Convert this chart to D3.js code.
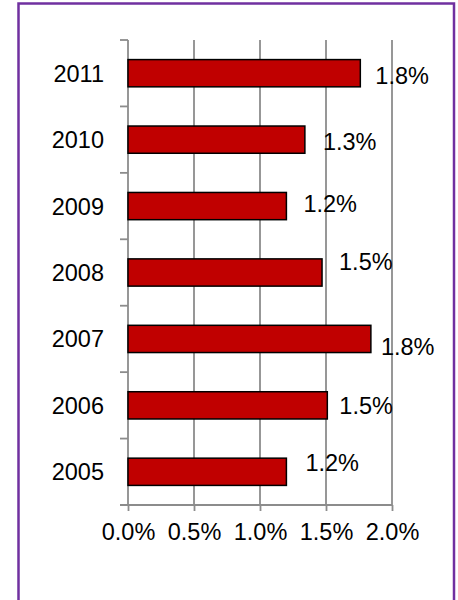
<!DOCTYPE html>
<html>
<head>
<meta charset="utf-8">
<script src="https://cdn.jsdelivr.net/npm/d3@7"></script>
<style>
  html, body { margin: 0; padding: 0; background: #fff; }
  svg { display: block; }
  text { font-family: "Liberation Sans", Arial, sans-serif; fill: #000; }
</style>
</head>
<body>
<svg id="chart" width="458" height="600"></svg>
<script>
// ---- data ----
const years = ["2011", "2010", "2009", "2008", "2007", "2006", "2005"];
const values = [1.76, 1.34, 1.20, 1.47, 1.84, 1.51, 1.20];
const valueLabels = ["1.8%", "1.3%", "1.2%", "1.5%", "1.8%", "1.5%", "1.2%"];
const xTicks = [0, 0.5, 1.0, 1.5, 2.0];
const xTickLabels = ["0.0%", "0.5%", "1.0%", "1.5%", "2.0%"];

// ---- layout (manual label nudges, as placed in the original) ----
const labelNudgeX = [15, 18, 17, 17, 10, 12, 19];
const labelNudgeY = [2, 2, -3, -11.5, 8, 0.5, -9];

const svg = d3.select("#chart");
const fontSize = 23.5;

// border
svg.append("rect")
  .attr("x", 18.5).attr("y", 3.5)
  .attr("width", 435.5).attr("height", 600)
  .attr("fill", "none").attr("stroke", "#7030A0").attr("stroke-width", 2.5);

const x = d3.scaleLinear().domain([0, 2]).range([128, 392]);
const y = d3.scaleBand().domain(years).range([40, 505]).padding(0);
const step = y.step();
const barH = step * 0.41;

const gridColor = "#8c8c8c";

// vertical gridlines
svg.append("g").selectAll("line")
  .data(xTicks.slice(1))
  .join("line")
  .attr("x1", d => x(d)).attr("x2", d => x(d))
  .attr("y1", 40).attr("y2", 505)
  .attr("stroke", gridColor).attr("stroke-width", 1.8);

// bottom axis
const xAxis = d3.axisBottom(x)
  .tickValues(xTicks)
  .tickFormat((d, i) => xTickLabels[i])
  .tickSizeInner(6).tickSizeOuter(0).tickPadding(14);
const gx = svg.append("g").attr("transform", "translate(0,505)").call(xAxis);
gx.select(".domain").attr("stroke", gridColor).attr("stroke-width", 1.8)
  .attr("d", "M120,0H392");
gx.selectAll(".tick line").attr("stroke", gridColor).attr("stroke-width", 1.8);
gx.selectAll(".tick text")
  .style("font-size", fontSize + "px")
  .attr("dy", null).attr("y", 35)
  .attr("fill", "#000");

// left axis
const boundaries = years.map(d => y(d)).concat([y(years[years.length - 1]) + step]);
svg.append("line")
  .attr("x1", x(0)).attr("x2", x(0))
  .attr("y1", 40).attr("y2", 505)
  .attr("stroke", gridColor).attr("stroke-width", 1.8);
svg.append("g").selectAll("line")
  .data(boundaries)
  .join("line")
  .attr("x1", 120).attr("x2", x(0))
  .attr("y1", d => d).attr("y2", d => d)
  .attr("stroke", gridColor).attr("stroke-width", 1.8);

// category labels
svg.append("g").selectAll("text")
  .data(years)
  .join("text")
  .attr("x", 104)
  .attr("y", d => y(d) + step / 2 + 8.5)
  .attr("text-anchor", "end")
  .style("font-size", fontSize + "px")
  .text(d => d);

// bars
svg.append("g").selectAll("rect")
  .data(values)
  .join("rect")
  .attr("x", x(0))
  .attr("y", (d, i) => y(years[i]) + (step - barH) / 2)
  .attr("width", d => x(d) - x(0))
  .attr("height", barH)
  .attr("fill", "#C00000")
  .attr("stroke", "#000").attr("stroke-width", 1.5);

// value labels
svg.append("g").selectAll("text")
  .data(values)
  .join("text")
  .attr("x", (d, i) => x(d) + labelNudgeX[i])
  .attr("y", (d, i) => y(years[i]) + step / 2 + 8.5 + labelNudgeY[i])
  .style("font-size", fontSize + "px")
  .text((d, i) => valueLabels[i]);
</script>
</body>
</html>
